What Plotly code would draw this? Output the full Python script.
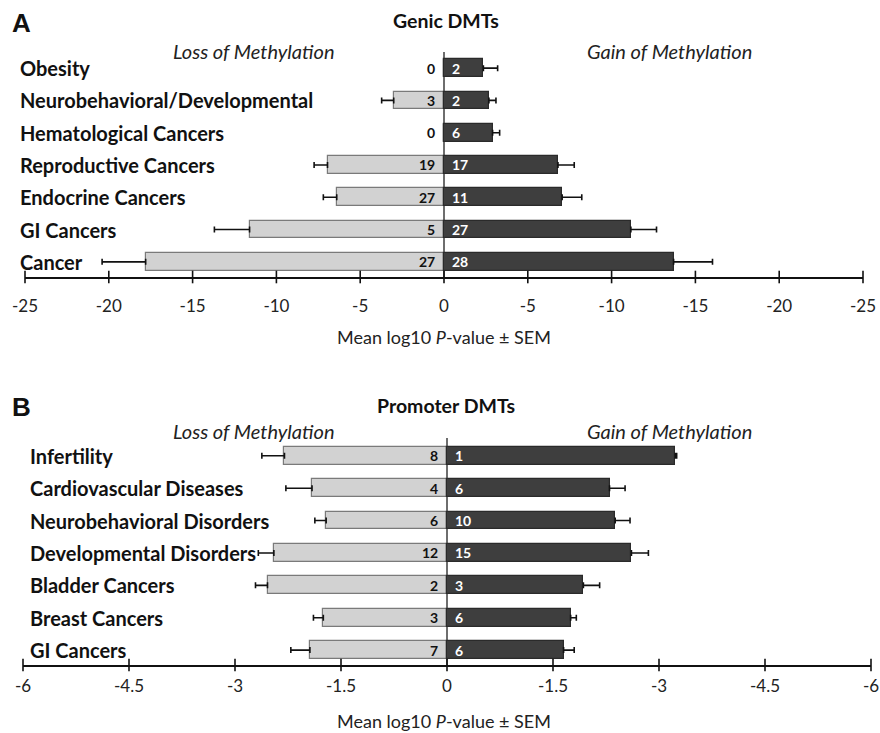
import plotly.graph_objects as go

# ---- Panel A: Genic DMTs ----
genic_cats = ["Obesity", "Neurobehavioral/Developmental", "Hematological Cancers",
              "Reproductive Cancers", "Endocrine Cancers", "GI Cancers", "Cancer"]
genic_loss = [0.0, 3.0, 0.0, 6.95, 6.4, 11.6, 17.8]
genic_loss_sem = [0.0, 0.72, 0.0, 0.8, 0.8, 2.1, 2.6]
genic_loss_n = [0, 3, 0, 19, 27, 5, 27]
genic_gain = [2.35, 2.68, 2.9, 6.8, 7.05, 11.15, 13.7]
genic_gain_sem = [0.85, 0.42, 0.42, 0.97, 1.17, 1.53, 2.32]
genic_gain_n = [2, 2, 6, 17, 11, 27, 28]
genic_ticks = [-25, -20, -15, -10, -5, 0, 5, 10, 15, 20, 25]
genic_ticktext = ["-25", "-20", "-15", "-10", "-5", "0", "-5", "-10", "-15", "-20", "-25"]

# ---- Panel B: Promoter DMTs ----
prom_cats = ["Infertility", "Cardiovascular Diseases", "Neurobehavioral Disorders",
             "Developmental Disorders", "Bladder Cancers", "Breast Cancers", "GI Cancers"]
prom_loss = [2.3, 1.91, 1.71, 2.45, 2.54, 1.75, 1.94]
prom_loss_sem = [0.32, 0.37, 0.16, 0.22, 0.17, 0.14, 0.27]
prom_loss_n = [8, 4, 6, 12, 2, 3, 7]
prom_gain = [3.23, 2.30, 2.38, 2.61, 1.93, 1.75, 1.65]
prom_gain_sem = [0.02, 0.22, 0.21, 0.24, 0.23, 0.08, 0.15]
prom_gain_n = [1, 6, 10, 15, 3, 6, 6]
prom_ticks = [-6, -4.5, -3, -1.5, 0, 1.5, 3, 4.5, 6]
prom_ticktext = ["-6", "-4.5", "-3", "-1.5", "0", "-1.5", "-3", "-4.5", "-6"]

W, H = 880, 733
FONT = "Lato"
LOSS_FILL, LOSS_EDGE = "#d2d2d2", "#7a7a7a"
GAIN_FILL, GAIN_EDGE = "#3e3e3e", "#2a2a2a"

fig = go.Figure()
annotations = []


def add_panel(loss, loss_sem, loss_n, gain, gain_sem, gain_n, ticks, axis_y, xa, ya):
    idx = list(range(len(loss)))
    # loss of methylation bars drawn to the left (negative side)
    fig.add_trace(go.Bar(
        x=[-v for v in loss], y=idx, orientation="h", width=0.55,
        marker=dict(color=LOSS_FILL, line=dict(color=LOSS_EDGE, width=1.2)),
        error_x=dict(type="data", symmetric=False, array=[0] * len(idx),
                     arrayminus=loss_sem, color="#111", thickness=1.6, width=3),
        xaxis=xa, yaxis=ya, hoverinfo="skip"))
    # gain of methylation bars to the right
    fig.add_trace(go.Bar(
        x=gain, y=idx, orientation="h", width=0.55,
        marker=dict(color=GAIN_FILL, line=dict(color=GAIN_EDGE, width=1.2)),
        error_x=dict(type="data", symmetric=False, array=gain_sem,
                     arrayminus=[0] * len(idx), color="#111", thickness=1.6, width=3),
        xaxis=xa, yaxis=ya, hoverinfo="skip"))
    # tick marks crossing the axis line
    fig.add_trace(go.Scatter(
        x=ticks, y=[axis_y] * len(ticks), mode="markers",
        marker=dict(symbol="line-ns-open", size=9, color="#111",
                    line=dict(color="#111", width=1.6)),
        xaxis=xa, yaxis=ya, hoverinfo="skip", cliponaxis=False))
    # counts on either side of the zero line
    for i in idx:
        annotations.append(dict(text="<b>%d</b>" % loss_n[i], x=0, y=i, xref=xa, yref=ya,
                                xanchor="right", yanchor="middle", xshift=-7,
                                showarrow=False,
                                font=dict(family=FONT, size=14, color="#111")))
        annotations.append(dict(text="<b>%d</b>" % gain_n[i], x=0, y=i, xref=xa, yref=ya,
                                xanchor="left", yanchor="middle", xshift=6,
                                showarrow=False,
                                font=dict(family=FONT, size=14, color="white")))


GENIC_YR = [6.47, -0.5]
PROM_YR = [6.46, -0.55]
add_panel(genic_loss, genic_loss_sem, genic_loss_n, genic_gain, genic_gain_sem,
          genic_gain_n, genic_ticks, GENIC_YR[0], "x", "y")
add_panel(prom_loss, prom_loss_sem, prom_loss_n, prom_gain, prom_gain_sem,
          prom_gain_n, prom_ticks, PROM_YR[0], "x2", "y2")


def px_x(p):
    return p / W


def px_y(p):
    return 1 - p / H


xcommon = dict(showline=True, linecolor="#111", linewidth=1.8, ticks="",
               showgrid=False, zeroline=True, zerolinecolor="#6e6e6e",
               zerolinewidth=1.5, tickfont=dict(family=FONT, size=17, color="#222"),
               automargin=False, fixedrange=True)
ycommon = dict(showline=False, showticklabels=False, ticks="", showgrid=False,
               zeroline=False, automargin=False, fixedrange=True)


def label_panel(cats, yref, y_letter, letter, title, y_title, y_sub, x_lab, y_axis_title):
    annotations.append(dict(text="<b>%s</b>" % letter, x=px_x(10), y=px_y(y_letter),
                            xref="paper", yref="paper", xanchor="left", yanchor="middle",
                            showarrow=False,
                            font=dict(family="Liberation Sans", size=26, color="#111")))
    annotations.append(dict(text="<b>%s</b>" % title, x=px_x(446), y=px_y(y_title),
                            xref="paper", yref="paper", xanchor="center", yanchor="middle",
                            showarrow=False, font=dict(family=FONT, size=19.5, color="#111")))
    annotations.append(dict(text="<i>Loss of Methylation</i>", x=px_x(254), y=px_y(y_sub),
                            xref="paper", yref="paper", xanchor="center", yanchor="middle",
                            showarrow=False, font=dict(family=FONT, size=20, color="#222")))
    annotations.append(dict(text="<i>Gain of Methylation</i>", x=px_x(669), y=px_y(y_sub),
                            xref="paper", yref="paper", xanchor="center", yanchor="middle",
                            showarrow=False, font=dict(family=FONT, size=20, color="#222")))
    for i, c in enumerate(cats):
        annotations.append(dict(text="<b>%s</b>" % c, x=px_x(x_lab), y=i,
                                xref="paper", yref=yref, xanchor="left", yanchor="middle",
                                showarrow=False,
                                font=dict(family=FONT, size=20, color="#111")))
    annotations.append(dict(text="Mean log10 <i>P</i>-value ± SEM", x=px_x(444),
                            y=px_y(y_axis_title), xref="paper", yref="paper",
                            xanchor="center", yanchor="middle", showarrow=False,
                            font=dict(family=FONT, size=18, color="#222")))


label_panel(genic_cats, "y", 23, "A", "Genic DMTs", 21, 51, 18, 337)
label_panel(prom_cats, "y2", 407, "B", "Promoter DMTs", 405, 431, 28, 721)

fig.update_layout(
    width=W, height=H, margin=dict(l=0, r=0, t=0, b=0, autoexpand=False),
    paper_bgcolor="white", plot_bgcolor="white", showlegend=False,
    barmode="overlay", bargap=0,
    xaxis=dict(domain=[px_x(25), px_x(863)], range=[-25, 25], anchor="y",
               tickvals=genic_ticks, ticktext=genic_ticktext,
               ticklabelstandoff=13, **xcommon),
    yaxis=dict(domain=[px_y(277), px_y(52)], range=GENIC_YR, anchor="x", **ycommon),
    xaxis2=dict(domain=[px_x(23), px_x(871)], range=[-6, 6], anchor="y2",
                tickvals=prom_ticks, ticktext=prom_ticktext,
                ticklabelstandoff=5, **xcommon),
    yaxis2=dict(domain=[px_y(665), px_y(438)], range=PROM_YR, anchor="x2", **ycommon),
    annotations=annotations,
)

fig.write_html("out.html")
